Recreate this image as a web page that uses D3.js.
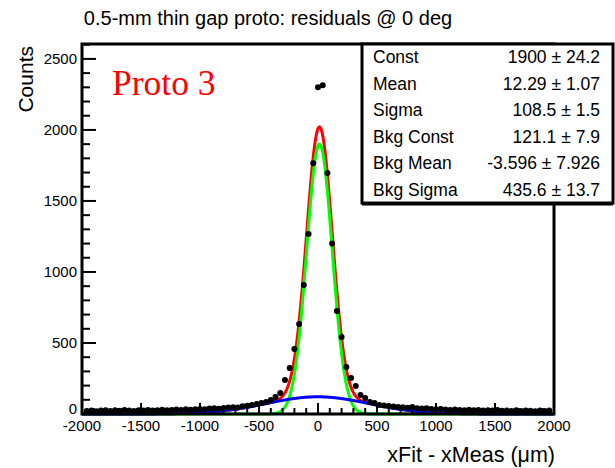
<!DOCTYPE html>
<html><head><meta charset="utf-8">
<script src="https://cdn.jsdelivr.net/npm/d3@7"></script>
<style>body{margin:0;background:#fff}svg{display:block}</style>
</head><body>
<svg id="c" width="615" height="468"></svg>
<script>
// ---- data ----
const binCenters = [
-1960,-1920,-1880,-1840,-1800,-1760,-1720,-1680,-1640,-1600,
-1560,-1520,-1480,-1440,-1400,-1360,-1320,-1280,-1240,-1200,
-1160,-1120,-1080,-1040,-1000,-960,-920,-880,-840,-800,
-760,-720,-680,-640,-600,-560,-520,-480,-440,-400,
-360,-320,-280,-240,-200,-160,-120,-80,-40,0,
40,80,120,160,200,240,280,320,360,400,
440,480,520,560,600,640,680,720,760,800,
840,880,920,960,1000,1040,1080,1120,1160,1200,
1240,1280,1320,1360,1400,1440,1480,1520,1560,1600,
1640,1680,1720,1760,1800,1840,1880,1920,1960];
const counts = [
22,25,20,24,27,21,26,23,28,24,
22,27,25,29,24,27,30,26,29,31,
28,33,30,34,36,33,38,40,37,43,
45,48,46,55,58,64,70,77,84,99,
120,148,239,324,457,633,908,1267,1766,2301,
2315,1696,1201,725,542,331,253,197,134,113,
84,77,63,60,56,52,50,47,44,49,
41,38,40,36,33,35,31,29,32,28,
27,30,26,29,25,27,24,28,23,25,
22,26,21,24,23,20,25,22,24];
const statLabels = ["Const","Mean","Sigma","Bkg Const","Bkg Mean","Bkg Sigma"];
const statValues = [1900, 12.29, 108.5, 121.1, -3.596, 435.6];
const statErrors = [24.2, 1.07, 1.5, 7.9, 7.926, 13.7];
const statText = ["1900 \u00b1 24.2","12.29 \u00b1 1.07","108.5 \u00b1 1.5","121.1 \u00b1 7.9","-3.596 \u00b1 7.926","435.6 \u00b1 13.7"];
const xTicks = [-2000,-1500,-1000,-500,0,500,1000,1500,2000];
const yTicks = [0,500,1000,1500,2000,2500];
const titleText = "0.5-mm thin gap proto: residuals @ 0 deg";
const xTitle = "xFit - xMeas (\u03bcm)";
const yTitle = "Counts";
const tagText = "Proto 3";

// ---- layout ----
const L = 82, R = 554, T = 44, B = 414;
const svg = d3.select("#c");
const x = d3.scaleLinear().domain([-2000, 2000]).range([L, R]);
const y = d3.scaleLinear().domain([0, 2605]).range([B, T]);
const SANS = "'Liberation Sans', Arial, sans-serif";

// curves from fit parameters
const [c0, m0, s0, c1, m1, s1] = statValues;
const sig = v => c0 * Math.exp(-((v - m0) ** 2) / (2 * s0 * s0));
const bkg = v => c1 * Math.exp(-((v - m1) ** 2) / (2 * s1 * s1));
const grid = d3.range(-2000, 2000.1, 4);
const line = f => d3.line().x(d => x(d)).y(d => y(f(d)))(grid);

const plot = svg.append("g");
plot.append("path").attr("d", line(v => sig(v) + bkg(v))).attr("fill", "none").attr("stroke", "#ff0000").attr("stroke-width", 3);
plot.append("path").attr("d", line(sig)).attr("fill", "none").attr("stroke", "#00ff00").attr("stroke-width", 3);
plot.append("path").attr("d", line(bkg)).attr("fill", "none").attr("stroke", "#0000ff").attr("stroke-width", 3);

// data markers
plot.selectAll("circle").data(binCenters).enter().append("circle")
  .attr("cx", (d) => x(d)).attr("cy", (d, i) => y(counts[i])).attr("r", 3).attr("fill", "#000");

// ticks
const g = svg.append("g").attr("stroke", "#000").attr("stroke-width", 2);
d3.range(-2000, 2001, 100).forEach(v => {
  const major = v % 500 === 0;
  g.append("line").attr("x1", x(v)).attr("x2", x(v)).attr("y1", B).attr("y2", B - (major ? 11 : 6));
});
d3.range(0, 2601, 100).forEach(v => {
  const major = v % 500 === 0;
  g.append("line").attr("x1", L).attr("x2", L + (major ? 14 : 8)).attr("y1", y(v)).attr("y2", y(v));
});

// frame
svg.append("rect").attr("x", L).attr("y", T).attr("width", R - L).attr("height", B - T)
  .attr("fill", "none").attr("stroke", "#000").attr("stroke-width", 3);

// tick labels
svg.append("g").selectAll("text").data(xTicks).enter().append("text")
  .attr("x", d => x(d)).attr("y", 431).attr("text-anchor", "middle")
  .attr("font-family", SANS).attr("font-size", 15).text(d => d);
svg.append("g").selectAll("text").data(yTicks).enter().append("text")
  .attr("x", 77).attr("y", d => y(d) + (d === 0 ? 0 : 5.5)).attr("text-anchor", "end")
  .attr("font-family", SANS).attr("font-size", 15).text(d => d);

// titles
svg.append("text").attr("x", 268).attr("y", 25).attr("text-anchor", "middle")
  .attr("font-family", SANS).attr("font-size", 20).text(titleText);
svg.append("text").attr("x", 555).attr("y", 462).attr("text-anchor", "end")
  .attr("font-family", SANS).attr("font-size", 21.5).text(xTitle);
svg.append("text").attr("transform", "translate(33,46) rotate(-90)").attr("text-anchor", "end")
  .attr("font-family", SANS).attr("font-size", 21).text(yTitle);

// Proto tag
svg.append("text").attr("x", 112).attr("y", 95).attr("fill", "#ff0000")
  .attr("font-family", "'Liberation Serif', 'Times New Roman', serif").attr("font-size", 35.5).text(tagText);

// stats box
const bx = 362, by = 44, bw = 251, bh = 159;
const box = svg.append("g");
box.append("rect").attr("x", bx).attr("y", by).attr("width", bw).attr("height", bh)
  .attr("fill", "#fff").attr("stroke", "#000").attr("stroke-width", 3);
box.append("line").attr("x1", bx).attr("x2", bx + bw).attr("y1", by + bh + 1.5).attr("y2", by + bh + 1.5)
  .attr("stroke", "#000").attr("stroke-width", 2);
const rowH = bh / statLabels.length;
statLabels.forEach((lab, i) => {
  const cy = by + rowH * (i + 0.5) + 6;
  box.append("text").attr("x", 373).attr("y", cy).attr("font-family", SANS).attr("font-size", 17.5).text(lab);
  box.append("text").attr("x", 600).attr("y", cy).attr("text-anchor", "end").attr("font-family", SANS).attr("font-size", 17.5).text(statText[i]);
});
</script>
</body></html>
